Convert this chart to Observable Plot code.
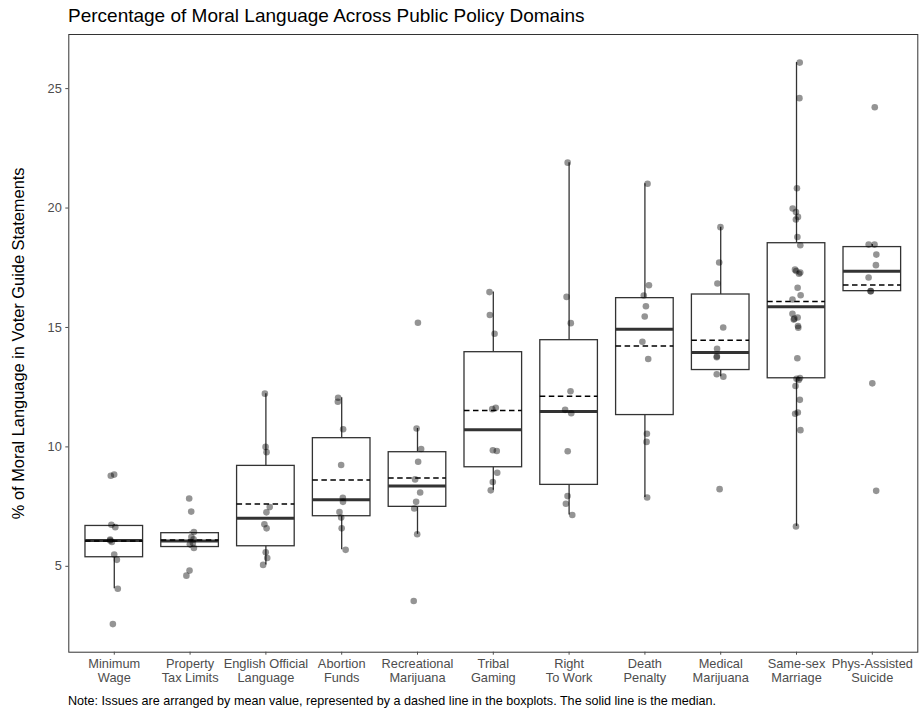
<!DOCTYPE html>
<html>
<head>
<meta charset="utf-8">
<script src="https://cdn.jsdelivr.net/npm/d3@7"></script>
<script src="https://cdn.jsdelivr.net/npm/@observablehq/plot@0.6"></script>
<style>
  body { margin: 0; background: #fff; font-family: "Liberation Sans", Arial, Helvetica, sans-serif; }
  #wrap { position: relative; width: 919px; height: 725px; overflow: hidden; }
  #title { position: absolute; left: 68px; top: 5px; font-size: 19px; color: #000; white-space: nowrap; }
  #chart { position: absolute; left: 0; top: 30px; }
  #note { position: absolute; left: 68px; top: 694px; font-size: 12.6px; color: #000; white-space: nowrap; }
</style>
</head>
<body>
<div id="wrap">
  <div id="title">Percentage of Moral Language Across Public Policy Domains</div>
  <div id="chart"></div>
  <div id="note">Note: Issues are arranged by mean value, represented by a dashed line in the boxplots. The solid line is the median.</div>
</div>
<script>
// Policy domains, ordered by mean share of moral language
const categories = [
  "Minimum Wage", "Property Tax Limits", "English Official Language", "Abortion Funds",
  "Recreational Marijuana", "Tribal Gaming", "Right To Work", "Death Penalty",
  "Medical Marijuana", "Same-sex Marriage", "Phys-Assisted Suicide"
];
const tickLabels = [
  "Minimum\nWage", "Property\nTax Limits", "English Official\nLanguage", "Abortion\nFunds",
  "Recreational\nMarijuana", "Tribal\nGaming", "Right\nTo Work", "Death\nPenalty",
  "Medical\nMarijuana", "Same-sex\nMarriage", "Phys-Assisted\nSuicide"
];
const yTicks = [5, 10, 15, 20, 25];

// % of moral language in each voter guide statement, per domain
const minimumWage    = [8.84, 8.79, 6.74, 6.64, 6.12, 6.08, 6.02, 5.49, 5.27, 4.06, 2.58];
const propertyTax    = [7.84, 7.29, 6.44, 6.23, 6.13, 5.98, 5.92, 5.77, 4.82, 4.61];
const englishOfficial = [12.23, 10.00, 9.78, 7.48, 7.26, 6.76, 6.59, 5.59, 5.35, 5.06];
const abortionFunds  = [12.06, 11.89, 10.74, 9.24, 7.87, 7.70, 7.27, 7.04, 6.59, 5.69];
const recMarijuana   = [15.20, 10.77, 9.91, 9.38, 8.64, 8.09, 7.70, 7.42, 6.34, 3.55];
const tribalGaming   = [16.48, 15.52, 14.74, 11.64, 11.58, 9.86, 9.83, 8.92, 8.53, 8.18];
const rightToWork    = [21.90, 16.28, 15.18, 12.33, 11.55, 11.41, 9.82, 7.94, 7.62, 7.15];
const deathPenalty   = [21.02, 16.77, 16.34, 15.89, 15.46, 14.40, 13.68, 10.55, 10.21, 7.88];
const medMarijuana   = [19.20, 17.72, 16.84, 15.00, 14.11, 13.79, 13.75, 13.04, 12.94, 8.23];
const sameSexMarriage = [26.09, 24.60, 20.83, 19.98, 19.83, 19.63, 19.52, 18.79, 18.44, 17.42,
  17.36, 17.30, 17.25, 16.66, 16.35, 16.17, 15.57, 15.42, 15.37, 15.33, 15.06, 14.99, 13.71,
  12.88, 12.85, 12.80, 12.55, 11.97, 11.44, 11.39, 10.70, 6.67];
const physAssisted   = [24.22, 18.47, 18.47, 18.05, 17.61, 17.09, 16.52, 16.52, 12.66, 8.16];

const series = [minimumWage, propertyTax, englishOfficial, abortionFunds, recMarijuana,
  tribalGaming, rightToWork, deathPenalty, medMarijuana, sameSexMarriage, physAssisted];

// Small seeded horizontal jitter so overlapping statements stay visible
const jitter = d3.randomUniform.source(d3.randomLcg(0.37))(-0.055, 0.055);

const points = series.flatMap((vals, k) =>
  vals.map(v => ({i: k + 1, category: categories[k], value: v, jit: jitter()})));

// Box statistics (Tukey whiskers, type-7 quantiles as in R)
const stats = series.map((vals, k) => {
  const s = vals.slice().sort(d3.ascending);
  const q1 = d3.quantileSorted(s, 0.25), q3 = d3.quantileSorted(s, 0.75);
  const iqr = q3 - q1;
  return {
    i: k + 1,
    category: categories[k],
    q1, q3,
    median: d3.quantileSorted(s, 0.5),
    mean: d3.mean(s),
    lo: d3.min(s.filter(v => v >= q1 - 1.5 * iqr)),
    hi: d3.max(s.filter(v => v <= q3 + 1.5 * iqr))
  };
});

const [ymin, ymax] = d3.extent(points, d => d.value);
const ypad = (ymax - ymin) * 0.05;
const half = 0.38;

const chart = Plot.plot({
  width: 919,
  height: 665,
  marginTop: 4,
  marginBottom: 43.3,
  marginLeft: 68.3,
  marginRight: 1.7,
  style: {fontFamily: "'Liberation Sans', Arial, Helvetica, sans-serif", fontSize: "12.8px", background: "#fff"},
  x: {domain: [0.4, categories.length + 0.6]},
  y: {domain: [ymin - ypad, ymax + ypad]},
  marks: [
    Plot.ruleX(stats, {x: "i", y1: "q3", y2: "hi", stroke: "#333", strokeWidth: 1.3}),
    Plot.ruleX(stats, {x: "i", y1: "lo", y2: "q1", stroke: "#333", strokeWidth: 1.3}),
    Plot.rect(stats, {x1: d => d.i - half, x2: d => d.i + half, y1: "q1", y2: "q3",
      fill: "#fff", stroke: "#333", strokeWidth: 1.3}),
    Plot.ruleY(stats, {x1: d => d.i - half, x2: d => d.i + half, y: "median",
      stroke: "#333", strokeWidth: 3}),
    Plot.ruleY(stats, {x1: d => d.i - half, x2: d => d.i + half, y: "mean",
      stroke: "#000", strokeWidth: 1.5, strokeDasharray: "5.5,3.5"}),
    Plot.dot(points, {x: d => d.i + d.jit, y: "value", r: 3.3, fill: "#000", fillOpacity: 0.42}),
    Plot.frame({stroke: "#333", strokeWidth: 1}),
    Plot.axisY({ticks: yTicks, tickSize: 3, tickPadding: 4, color: "#4d4d4d", fontSize: 12.8, label: null}),
    Plot.axisX({ticks: d3.range(1, categories.length + 1), tickFormat: i => tickLabels[i - 1],
      tickSize: 3, tickPadding: 3, color: "#4d4d4d", fontSize: 12.8, lineHeight: 1.08, label: null}),
    Plot.text(["% of Moral Language in Voter Guide Statements"], {
      frameAnchor: "left", textAnchor: "middle", rotate: -90, dx: -50, fontSize: 16.4, fill: "#000"
    })
  ]
});
document.getElementById("chart").appendChild(chart);
</script>
</body>
</html>
